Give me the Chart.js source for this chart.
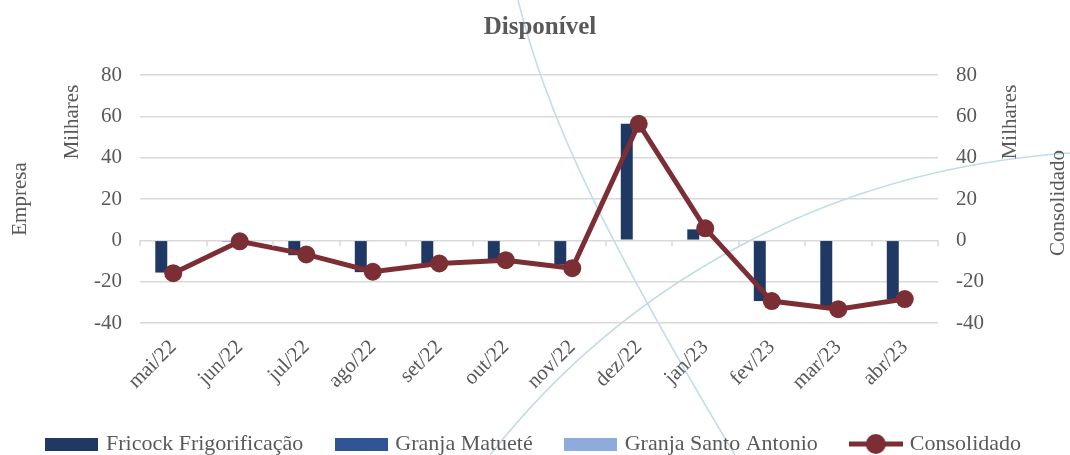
<!DOCTYPE html>
<html>
<head>
<meta charset="utf-8">
<script src="https://cdn.jsdelivr.net/npm/chart.js@4/dist/chart.umd.min.js"></script>
<style>
  body { margin: 0; background: #fff; }
  #wrap { width: 1070px; height: 455px; }
</style>
</head>
<body>
<div id="wrap"><canvas id="disp"></canvas></div>
<script>
const MONTHS = ['mai/22', 'jun/22', 'jul/22', 'ago/22', 'set/22', 'out/22', 'nov/22', 'dez/22', 'jan/23', 'fev/23', 'mar/23', 'abr/23'];
const FRICOCK = [-15.6, -0.5, -7.2, -15.4, -11.2, -10.0, -11.8, 56.4, 5.3, -29.4, -33.2, -28.4];
const MATUETE = [0, 0, 0, 0, 0, 0, 0, 0, 0, 0, 0, 0];
const SANTO_ANTONIO = [0, 0, 0, 0, 0, 0, 0, 0, 0, 0, 0, 0];
const CONSOLIDADO = [-15.9, -0.5, -6.8, -15.2, -11.2, -9.6, -13.5, 56.4, 5.8, -29.4, -33.3, -28.4];
const Y_MIN = -40, Y_MAX = 80, Y_STEP = 20;

const COLORS = {
    fricock: '#1f3864',
    matuete: '#2f5597',
    santo: '#8faadc',
    consol: '#7b2f35',
    grid: '#d9d9d9',
    text: '#595959',
    arc: '#bfdde8'
};
const FONT = "'Liberation Serif', 'DejaVu Serif', serif";

function boxIcon(color) {
    const c = document.createElement('canvas');
    c.width = 53; c.height = 13;
    const g = c.getContext('2d');
    g.fillStyle = color;
    g.fillRect(0, 0, 53, 13);
    return c;
}
function lineIcon(color) {
    const c = document.createElement('canvas');
    c.width = 54; c.height = 22;
    const g = c.getContext('2d');
    g.strokeStyle = color;
    g.lineWidth = 5;
    g.beginPath(); g.moveTo(0, 11); g.lineTo(54, 11); g.stroke();
    g.fillStyle = color;
    g.beginPath(); g.arc(27, 11, 10, 0, Math.PI * 2); g.fill();
    return c;
}

// fundo, arcos decorativos, títulos e marcas no eixo zero
const decor = {
    id: 'decor',
    beforeDraw(chart) {
        const ctx = chart.ctx;
        ctx.save();
        ctx.fillStyle = '#fff';
        ctx.fillRect(0, 0, chart.width, chart.height);
        ctx.strokeStyle = COLORS.arc;
        ctx.lineWidth = 1.5;
        ctx.beginPath();
        ctx.moveTo(518, 0);
        ctx.bezierCurveTo(545, 110, 600, 230, 735, 455);
        ctx.stroke();
        ctx.beginPath();
        ctx.moveTo(490, 455);
        ctx.bezierCurveTo(620, 290, 820, 170, 1070, 153);
        ctx.stroke();
        ctx.restore();
    },
    afterDraw(chart) {
        const ctx = chart.ctx;
        const x = chart.scales.x, y = chart.scales.y;
        ctx.save();
        ctx.fillStyle = COLORS.text;
        ctx.font = 'bold 25px ' + FONT;
        ctx.textAlign = 'center';
        ctx.textBaseline = 'middle';
        ctx.fillText('Disponível', 540, 28);

        ctx.font = '21px ' + FONT;
        const vert = (txt, cx, cy) => {
            ctx.save();
            ctx.translate(cx, cy);
            ctx.rotate(-Math.PI / 2);
            ctx.fillText(txt, 0, 0);
            ctx.restore();
        };
        vert('Empresa', 20, 199);
        vert('Milhares', 72, 122);
        vert('Milhares', 1010, 122);
        vert('Consolidado', 1058, 203);

        const y0 = y.getPixelForValue(0);
        const w = (x.right - x.left) / MONTHS.length;
        ctx.strokeStyle = COLORS.grid;
        ctx.lineWidth = 1.5;
        for (let i = 0; i <= MONTHS.length; i++) {
            const px = Math.round(x.left + i * w);
            ctx.beginPath();
            ctx.moveTo(px, y0);
            ctx.lineTo(px, y0 + 6);
            ctx.stroke();
        }
        ctx.restore();
    }
};

const yTicks = {
    min: Y_MIN,
    max: Y_MAX,
    ticks: { stepSize: Y_STEP, color: COLORS.text, font: { family: FONT, size: 21 }, padding: 18 },
    border: { display: false },
    grid: { color: COLORS.grid, lineWidth: 1.5, drawTicks: false }
};

var data = {
    labels: MONTHS,
    datasets: [{
        label: 'Fricock Frigorificação',
        data: FRICOCK,
        backgroundColor: COLORS.fricock,
        yAxisID: 'y',
        order: 1
    }, {
        label: 'Granja Matueté',
        data: MATUETE,
        backgroundColor: COLORS.matuete,
        yAxisID: 'y',
        order: 1
    }, {
        label: 'Granja Santo Antonio',
        data: SANTO_ANTONIO,
        backgroundColor: COLORS.santo,
        yAxisID: 'y',
        order: 1
    }, {
        type: 'line',
        label: 'Consolidado',
        data: CONSOLIDADO,
        borderColor: COLORS.consol,
        backgroundColor: COLORS.consol,
        borderWidth: 5,
        pointRadius: 9,
        pointHoverRadius: 9,
        pointBackgroundColor: COLORS.consol,
        pointBorderWidth: 0,
        yAxisID: 'y1',
        order: 0
    }]
};

var options = {
    responsive: true,
    maintainAspectRatio: false,
    animation: false,
    layout: { padding: { top: 75, left: 0, right: 0, bottom: -10 } },
    datasets: { bar: { categoryPercentage: 0.54, barPercentage: 1 } },
    scales: {
        x: {
            grid: { display: false },
            border: { display: false },
            ticks: {
                color: COLORS.text,
                font: { family: FONT, size: 21 },
                maxRotation: 45,
                minRotation: 45,
                padding: 4
            },
            afterFit: function (scale) { scale.height = 75; }
        },
        y: Object.assign({ position: 'left', afterFit: function (scale) { scale.width = 140; } }, yTicks),
        y1: Object.assign({ position: 'right', afterFit: function (scale) { scale.width = 132; } }, yTicks, {
            grid: { display: false, drawTicks: false }
        })
    },
    plugins: {
        legend: {
            position: 'bottom',
            labels: {
                usePointStyle: true,
                pointStyleWidth: 46,
                color: COLORS.text,
                font: { family: FONT, size: 22 },
                padding: 35,
                generateLabels: function (chart) {
                    return chart.data.datasets.map(function (ds, i) {
                        return {
                            text: ds.label,
                            fontColor: COLORS.text,
                            pointStyle: i === 3 ? lineIcon(COLORS.consol) : boxIcon(ds.backgroundColor),
                            datasetIndex: i,
                            hidden: false,
                            lineWidth: 0
                        };
                    });
                }
            }
        },
        tooltip: { enabled: false }
    }
};

var chart = new Chart(document.getElementById('disp'), {
    type: 'bar',
    data: data,
    options: options,
    plugins: [decor]
});
</script>
</body>
</html>
